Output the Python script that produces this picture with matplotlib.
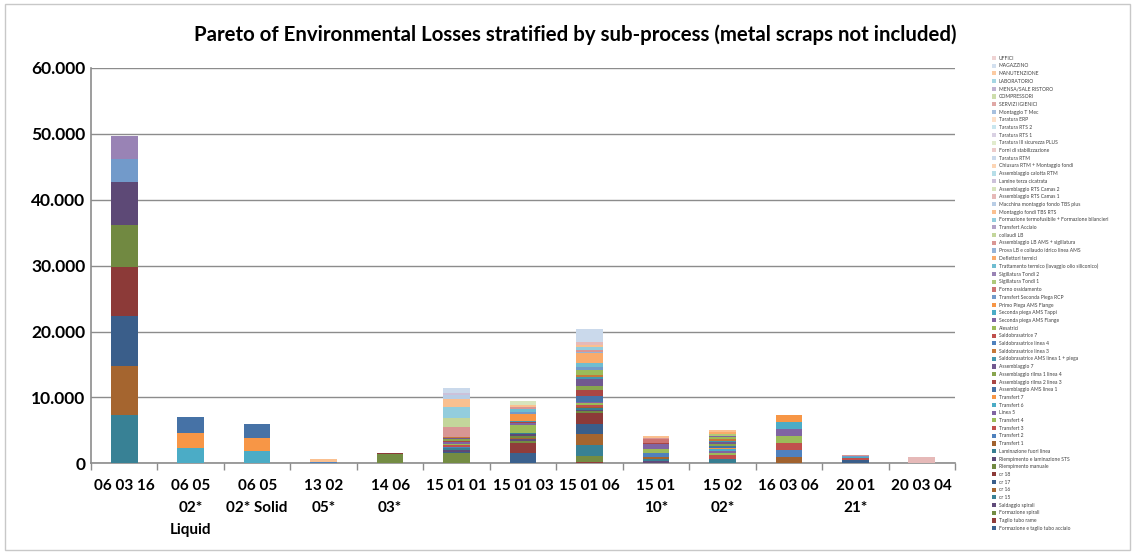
import numpy as np
import matplotlib
matplotlib.use("Agg")
import matplotlib.pyplot as plt
import matplotlib.colors as mcolors
from matplotlib.patches import Patch, Rectangle
from matplotlib.ticker import FuncFormatter, FixedLocator

plt.rcParams["font.family"] = ["Lato", "DejaVu Sans"]

# waste codes on the x axis
CATEGORIES = ["06 03 16", "06 05\n02*\nLiquid", "06 05\n02* Solid", "13 02\n05*",
              "14 06\n03*", "15 01 01", "15 01 03", "15 01 06", "15 01\n10*",
              "15 02\n02*", "16 03 06", "20 01\n21*", "20 03 04"]

# sub-processes, in stacking order (first one sits at the bottom of each bar)
SERIES = [
    "Formazione e taglio tubo acciaio", "Taglio tubo rame", "Formazione spirali",
    "Saldaggio spirali", "cr 15", "cr 16", "cr 17", "cr 18", "Riempimento manuale",
    "Riempimento e laminazione STS", "Laminazione fuori linea", "Transfert 1",
    "Transfert 2", "Transfert 3", "Transfert 4", "Linea 5", "Transfert 6", "Transfert 7",
    "Assemblaggio AMS linea 1", "Assemblaggio rilma 2 linea 3", "Assemblaggio rilma 1 linea 4",
    "Assemblaggio 7", "Saldobrasatrice AMS linea 1 + piega", "Saldobrasatrice linea 3",
    "Saldobrasatrice linea 4", "Saldobrasatrice 7", "Alesatrici", "Seconda piega AMS Flange",
    "Seconda piega AMS Tappi", "Primo Piega AMS Flange", "Transfert Seconda Piega RCP",
    "Forno ossidamento", "Sigillatura Tondi 1", "Sigillatura Tondi 2",
    "Trattamento termico (lavaggio olio siliconico)", "Deflettori termici",
    "Prova LB e collaudo idrico linea AMS", "Assemblaggio LB AMS + sigillatura", "collaudi LB",
    "Transfert Acciaio", "Formazione termofusibile + Formazione bilancieri",
    "Montaggio fondi TBS RTS", "Macchina montaggio fondo TBS plus", "Assemblaggio RTS Camas 1",
    "Assemblaggio RTS Camas 2", "Lamine terza cicatrata", "Assemblaggio calotta RTM",
    "Chiusura RTM + Montaggio fondi", "Taratura RTM", "Forni di stabilizzazione",
    "Taratura III sicurezza PLUS", "Taratura RTS 1", "Taratura RTS 2", "Taratura ERP",
    "Montaggio T Mec", "SERVIZI IGIENICI", "COMPRESSORI", "MENSA/SALE RISTORO",
    "LABORATORIO", "MANUTENZIONE", "MAGAZZINO", "UFFICI",
]

# losses per waste code: {sub-process index: amount}
loss_060316 = {4: 7330, 5: 7480, 6: 7540, 7: 7480, 8: 6370, 9: 6520, 30: 3400, 33: 3580}
loss_060502_liquid = {16: 2280, 17: 2280, 18: 2430}
loss_060502_solid = {16: 1910, 17: 1970, 18: 2080}
loss_130205 = {24: 150, 41: 550}
loss_140603 = {2: 1360, 7: 250}
loss_150101 = {2: 1520, 6: 250, 9: 300, 10: 200, 12: 250, 13: 200, 14: 250, 15: 250,
               19: 200, 20: 200, 21: 230, 23: 200, 37: 1470, 38: 1370, 40: 1620,
               41: 1320, 42: 500, 45: 400, 48: 720}
loss_150103 = {0: 1520, 1: 1520, 2: 400, 3: 250, 5: 200, 8: 300, 9: 200, 10: 170,
               14: 1260, 15: 250, 19: 150, 22: 150, 29: 1110, 30: 300, 34: 400,
               37: 300, 41: 400, 44: 570}
loss_150106 = {1: 250, 2: 860, 4: 1670, 5: 1620, 6: 1620, 7: 1570, 8: 300, 9: 250,
               10: 250, 11: 200, 13: 260, 14: 250, 15: 250, 18: 860, 19: 910, 20: 660,
               21: 960, 22: 330, 23: 330, 26: 760, 30: 500, 34: 500, 35: 1520, 36: 250,
               37: 250, 40: 420, 41: 420, 43: 420, 48: 1890}
loss_150110 = {3: 350, 4: 250, 5: 400, 12: 500, 14: 610, 15: 830, 19: 200, 31: 500,
               37: 250, 41: 250}
loss_150202 = {10: 610, 13: 660, 14: 300, 15: 300, 16: 250, 17: 250, 18: 250, 20: 250,
               21: 300, 22: 250, 23: 250, 26: 250, 27: 300, 32: 250, 35: 250, 41: 330}
loss_160306 = {11: 1010, 12: 1010, 13: 1010, 14: 1110, 15: 1010, 16: 1110, 17: 1110}
loss_200121 = {6: 500, 13: 250, 16: 150, 30: 200, 37: 210}
loss_200304 = {43: 1010}

per_category = [loss_060316, loss_060502_liquid, loss_060502_solid, loss_130205,
                loss_140603, loss_150101, loss_150103, loss_150106, loss_150110,
                loss_150202, loss_160306, loss_200121, loss_200304]

values = np.zeros((len(SERIES), len(CATEGORIES)))
for j, d in enumerate(per_category):
    for i, v in d.items():
        values[i, j] = v

# Office-style colour cycle: six hues, each block of six darker or lighter
BASE = ["#4F81BD", "#C0504D", "#9BBB59", "#8064A2", "#4BACC6", "#F79646"]
BLOCK_MIX = [-0.25, -0.27, 0.0, -0.12, 0.0, 0.2, 0.4, 0.6, 0.7, 0.5, 0.75]


def series_color(i):
    c = np.array(mcolors.to_rgb(BASE[i % 6]))
    m = BLOCK_MIX[i // 6]
    if i % 6 == 5 and m < 0:
        m -= 0.08          # the dark oranges read browner
    c = c * (1 + m) if m < 0 else c + (1 - c) * m
    return tuple(c)


colors = [series_color(i) for i in range(len(SERIES))]

fig = plt.figure(figsize=(11.35, 5.54), dpi=100)
ax = fig.add_axes([0.0802, 0.1637, 0.7612, 0.7136])

x = np.arange(len(CATEGORIES))
bottom = np.zeros(len(CATEGORIES))
for i, name in enumerate(SERIES):
    ax.bar(x, values[i], 0.4, bottom=bottom, color=colors[i], label=name,
           edgecolor="none", zorder=3)
    bottom += values[i]

ax.set_xlim(-0.5, len(CATEGORIES) - 0.5)
ax.set_ylim(0, 60000)
ax.set_yticks(np.arange(0, 60001, 10000))
ax.yaxis.set_major_formatter(FuncFormatter(lambda v, p: f"{v:,.0f}".replace(",", ".")))
ax.grid(axis="y", color="#8c8c8c", lw=1.0, zorder=0)

ax.set_xticks(x)
ax.set_xticklabels(CATEGORIES, fontsize=11, fontweight="bold", linespacing=1.75,
                   va="top")
ax.xaxis.set_minor_locator(FixedLocator(np.arange(-0.5, len(CATEGORIES), 1.0)))
ax.tick_params(axis="x", which="major", length=0, pad=11)
ax.tick_params(axis="x", which="minor", length=5, color="#8c8c8c", width=1)
ax.tick_params(axis="y", length=0, pad=4, labelsize=12.5)
for lab in ax.get_yticklabels():
    lab.set_fontweight("bold")

for side in ("top", "right"):
    ax.spines[side].set_visible(False)
for side in ("left", "bottom"):
    ax.spines[side].set_color("#8c8c8c")
    ax.spines[side].set_linewidth(1.2)

fig.text(0.507, 0.937,
         "Pareto of Environmental Losses stratified by sub-process (metal scraps not included)",
         ha="center", va="center", fontsize=14.7, fontweight="bold")

# legend: last series on top, as in the stacked order reversed
handles = [Patch(facecolor=colors[i], edgecolor="none") for i in range(len(SERIES))][::-1]
fig.legend(handles, SERIES[::-1], loc="upper left", bbox_to_anchor=(0.874, 0.8995),
           frameon=False, fontsize=3.6, handlelength=0.9, handleheight=0.9,
           handletextpad=0.5, labelspacing=0.54, borderpad=0, borderaxespad=0,
           labelcolor="#404040")

fig.add_artist(Rectangle((0.004, 0.007), 0.992, 0.986, transform=fig.transFigure,
                         fill=False, edgecolor="#c8c8c8", lw=1.0))

fig.savefig("out.png", dpi=100, facecolor="white")
